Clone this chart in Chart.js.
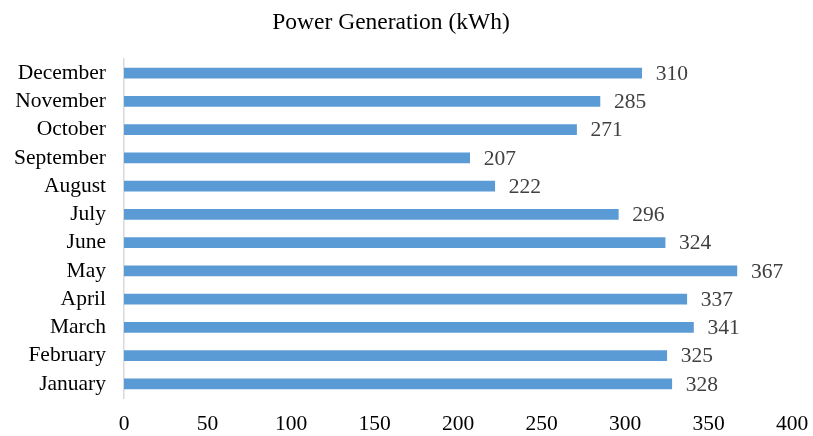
<!DOCTYPE html>
<html>
<head>
<meta charset="utf-8">
<script src="https://cdn.jsdelivr.net/npm/chart.js@4.4.0/dist/chart.umd.min.js"></script>
<style>
    html, body { margin: 0; padding: 0; background: #ffffff; }
    #wrap { width: 813px; height: 436px; }
</style>
</head>
<body>
<div id="wrap"><canvas id="powerChart" width="813" height="436"></canvas></div>
<script>
// Chart data
const months = ['January', 'February', 'March', 'April', 'May', 'June',
    'July', 'August', 'September', 'October', 'November', 'December'];
const generation = [328, 325, 341, 337, 367, 324, 296, 222, 207, 271, 285, 310];
const xTicks = [0, 50, 100, 150, 200, 250, 300, 350, 400];

const serif = '"Liberation Serif", "Times New Roman", serif';

// Title + value labels drawn by hand
const labelPlugin = {
    id: 'labelPlugin',
    afterDatasetsDraw(chart) {
        const ctx = chart.ctx;
        ctx.save();
        ctx.font = '23.5px ' + serif;
        ctx.fillStyle = '#000000';
        ctx.textAlign = 'center';
        ctx.textBaseline = 'middle';
        ctx.fillText('Power Generation (kWh)', 391, 23);

        ctx.font = '21.5px ' + serif;
        ctx.fillStyle = '#404040';
        ctx.textAlign = 'left';
        chart.getDatasetMeta(0).data.forEach((bar, i) => {
            ctx.fillText(String(generation[i]), bar.x + 14, bar.y + 1);
        });
        ctx.restore();
    }
};

const powerChart = new Chart(document.getElementById('powerChart'), {
    type: 'bar',
    data: {
        labels: months,
        datasets: [{
            data: generation,
            backgroundColor: '#5b9bd5',
            borderWidth: 0,
            barThickness: 10
        }]
    },
    options: {
        indexAxis: 'y',
        responsive: false,
        animation: false,
        layout: { padding: { top: 59, right: 21, left: 0, bottom: 0 } },
        plugins: {
            legend: { display: false },
            tooltip: { enabled: false },
            title: { display: false }
        },
        scales: {
            x: {
                min: 0,
                max: 400,
                afterBuildTicks(scale) {
                    scale.ticks = xTicks.map(v => ({ value: v }));
                },
                grid: { display: false, drawTicks: false },
                border: { display: false },
                ticks: {
                    color: '#000000',
                    font: { family: serif, size: 21.5 },
                    padding: 13,
                    maxRotation: 0
                },
                afterFit(scale) {
                    scale.height = 38;
                    scale.paddingLeft = 0;
                    scale.paddingRight = 0;
                }
            },
            y: {
                reverse: true,
                grid: { display: false, drawTicks: false },
                border: { display: true, color: '#d9d9d9', width: 1.5 },
                ticks: {
                    color: '#000000',
                    font: { family: serif, size: 21.5 },
                    padding: 18,
                    autoSkip: false
                },
                afterFit(scale) {
                    scale.width = 124;
                    scale.paddingTop = 0;
                    scale.paddingBottom = 0;
                }
            }
        }
    },
    plugins: [labelPlugin]
});
</script>
</body>
</html>
